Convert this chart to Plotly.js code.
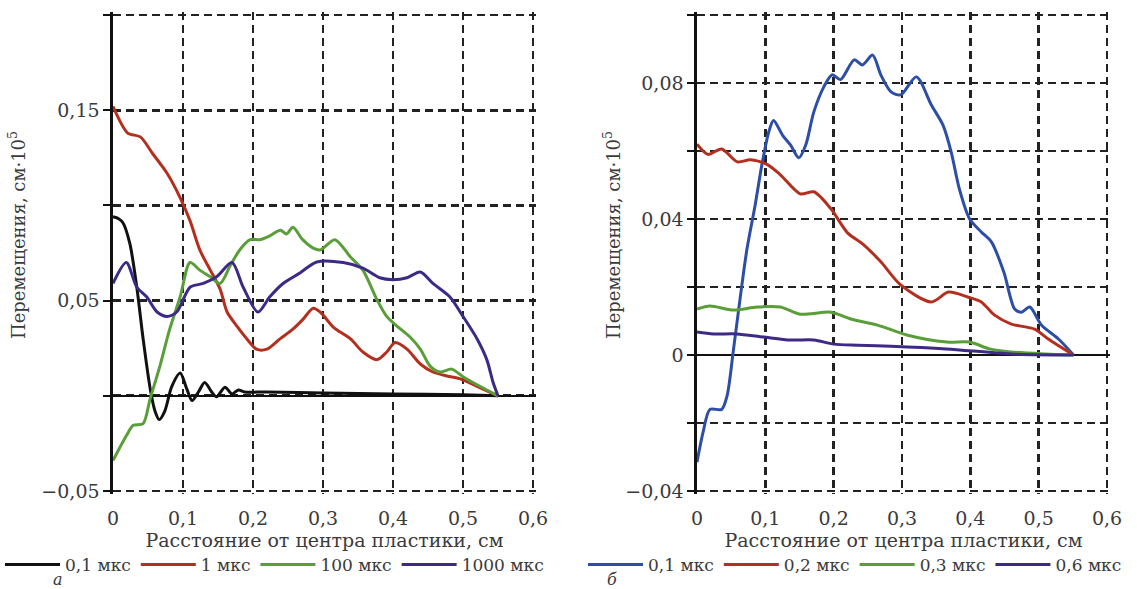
<!DOCTYPE html>
<html>
<head>
<meta charset="utf-8">
<script src="https://cdn.plot.ly/plotly-3.0.1.min.js"></script>
<style>
  html, body { margin: 0; padding: 0; background: #fff; }
  #chart { width: 1137px; height: 589px; }
</style>
</head>
<body>
<div id="chart"></div>
<script>
// ---------- Panel а ----------
const seriesNamesA = ["0,1 мкс", "1 мкс", "100 мкс", "1000 мкс"];
const blackX = [0, 0.008, 0.014, 0.024, 0.034, 0.043, 0.053, 0.06, 0.066, 0.074, 0.084, 0.096, 0.105, 0.113, 0.122, 0.131, 0.141, 0.148, 0.16, 0.17, 0.179, 0.188, 0.22, 0.3, 0.4, 0.5, 0.55];
const blackY = [0.094, 0.093, 0.091, 0.080, 0.057, 0.030, 0.004, -0.008, -0.0125, -0.008, 0.005, 0.012, 0.004, -0.0025, 0.002, 0.007, 0.002, -0.0005, 0.0045, 0.001, 0.003, 0.002, 0.002, 0.0015, 0.001, 0.0005, 0];
const redX = [0, 0.021, 0.039, 0.057, 0.077, 0.096, 0.11, 0.124, 0.139, 0.153, 0.163, 0.177, 0.191, 0.205, 0.22, 0.239, 0.257, 0.271, 0.286, 0.296, 0.315, 0.339, 0.357, 0.377, 0.391, 0.403, 0.42, 0.439, 0.457, 0.477, 0.496, 0.52, 0.55];
const redY = [0.152, 0.138, 0.136, 0.127, 0.117, 0.104, 0.092, 0.0766, 0.066, 0.056, 0.044, 0.0366, 0.030, 0.0245, 0.0245, 0.030, 0.035, 0.040, 0.046, 0.044, 0.036, 0.030, 0.023, 0.019, 0.023, 0.028, 0.0245, 0.0167, 0.0125, 0.0104, 0.0089, 0.005, 0];
const greenX = [0, 0.019, 0.029, 0.043, 0.053, 0.067, 0.081, 0.096, 0.11, 0.124, 0.139, 0.153, 0.167, 0.181, 0.196, 0.21, 0.224, 0.239, 0.248, 0.257, 0.271, 0.286, 0.296, 0.317, 0.339, 0.357, 0.377, 0.391, 0.406, 0.424, 0.439, 0.453, 0.467, 0.484, 0.5, 0.524, 0.55];
const greenY = [-0.034, -0.021, -0.0155, -0.0146, -0.0016, 0.0156, 0.035, 0.052, 0.070, 0.066, 0.0625, 0.059, 0.068, 0.0766, 0.082, 0.082, 0.084, 0.087, 0.085, 0.0885, 0.082, 0.0776, 0.0766, 0.082, 0.073, 0.066, 0.0505, 0.0417, 0.0365, 0.031, 0.0245, 0.0156, 0.0125, 0.014, 0.010, 0.005, 0];
const purpleX = [0, 0.019, 0.034, 0.048, 0.063, 0.077, 0.091, 0.11, 0.129, 0.148, 0.17, 0.186, 0.207, 0.224, 0.243, 0.267, 0.291, 0.329, 0.357, 0.381, 0.4, 0.42, 0.439, 0.457, 0.481, 0.5, 0.52, 0.534, 0.543, 0.55];
const purpleY = [0.059, 0.070, 0.057, 0.052, 0.044, 0.0417, 0.044, 0.057, 0.059, 0.0625, 0.070, 0.057, 0.044, 0.052, 0.059, 0.0645, 0.0703, 0.070, 0.067, 0.062, 0.061, 0.062, 0.065, 0.059, 0.052, 0.0417, 0.030, 0.019, 0.007, 0];

// ---------- Panel б ----------
const seriesNamesB = ["0,1 мкс", "0,2 мкс", "0,3 мкс", "0,6 мкс"];
const blueX = [0, 0.009, 0.019, 0.036, 0.044, 0.053, 0.063, 0.073, 0.085, 0.095, 0.105, 0.112, 0.125, 0.137, 0.149, 0.159, 0.171, 0.186, 0.198, 0.21, 0.23, 0.242, 0.257, 0.269, 0.284, 0.298, 0.321, 0.343, 0.36, 0.372, 0.384, 0.399, 0.416, 0.431, 0.449, 0.465, 0.475, 0.487, 0.504, 0.529, 0.551];
const blueY = [-0.0315, -0.0226, -0.016, -0.016, -0.012, 0.001, 0.0165, 0.031, 0.044, 0.056, 0.0656, 0.069, 0.0647, 0.0617, 0.058, 0.0617, 0.0715, 0.079, 0.0824, 0.081, 0.0868, 0.0853, 0.0882, 0.0824, 0.0774, 0.0765, 0.0818, 0.0735, 0.0676, 0.0597, 0.0488, 0.040, 0.0362, 0.0332, 0.0244, 0.0135, 0.0126, 0.0141, 0.0088, 0.0047, 0];
const red2X = [0, 0.016, 0.036, 0.059, 0.078, 0.103, 0.122, 0.151, 0.171, 0.196, 0.22, 0.244, 0.269, 0.298, 0.343, 0.368, 0.397, 0.416, 0.435, 0.46, 0.494, 0.514, 0.551];
const red2Y = [0.062, 0.059, 0.0606, 0.0568, 0.0574, 0.056, 0.053, 0.0474, 0.048, 0.043, 0.036, 0.0324, 0.0274, 0.0206, 0.0156, 0.0185, 0.017, 0.0156, 0.0118, 0.0091, 0.0076, 0.0047, 0];
const green2X = [0, 0.019, 0.053, 0.088, 0.122, 0.151, 0.196, 0.225, 0.264, 0.307, 0.365, 0.399, 0.428, 0.46, 0.51, 0.551];
const green2Y = [0.0135, 0.0144, 0.0132, 0.0141, 0.0141, 0.012, 0.0126, 0.0106, 0.0088, 0.0059, 0.0038, 0.0038, 0.0018, 0.0009, 0.0003, 0];
const purple2X = [0, 0.024, 0.058, 0.097, 0.137, 0.171, 0.2, 0.235, 0.284, 0.365, 0.46, 0.551];
const purple2Y = [0.0068, 0.0062, 0.0062, 0.0053, 0.0044, 0.0044, 0.0032, 0.0029, 0.0026, 0.0018, 0.0003, 0];

// ---------- Ticks ----------
const xTickVals = [0, 0.1, 0.2, 0.3, 0.4, 0.5, 0.6];
const xTickText = ["0", "0,1", "0,2", "0,3", "0,4", "0,5", "0,6"];
const yLabelValsA = [-0.05, 0.05, 0.15];
const yLabelTextA = ["\u22120,05", "0,05", "0,15"];
const yMinorValsA = [0, 0.1, 0.2];
const yLabelValsB = [-0.04, 0, 0.04, 0.08];
const yLabelTextB = ["\u22120,04", "0", "0,04", "0,08"];
const yMinorValsB = [-0.02, 0.02, 0.06, 0.1];

const xTitle = "Расстояние от центра пластики, см";
const yTitle = "Перемещения, см·10<sup>5</sup>";

const colorsA = ["#111111", "#b3301f", "#5a9e3a", "#3d2a86"];
const colorsB = ["#2d4ea6", "#b3301f", "#5a9e3a", "#3d2a86"];

const FONT = "DejaVu Serif, serif";
const TXT = "#3a3a3a";

function tr(x, y, name, color, xa, ya, leg) {
  return {
    x: x, y: y, name: name, type: "scatter", mode: "lines",
    xaxis: xa, yaxis: ya, legend: leg,
    line: { color: color, width: 3, shape: "spline", smoothing: 0.8 },
    hoverinfo: "skip"
  };
}

const data = [
  tr(blackX, blackY, seriesNamesA[0], colorsA[0], "x", "y", "legend"),
  tr(redX, redY, seriesNamesA[1], colorsA[1], "x", "y", "legend"),
  tr(greenX, greenY, seriesNamesA[2], colorsA[2], "x", "y", "legend"),
  tr(purpleX, purpleY, seriesNamesA[3], colorsA[3], "x", "y", "legend"),
  tr(blueX, blueY, seriesNamesB[0], colorsB[0], "x2", "y2", "legend2"),
  tr(red2X, red2Y, seriesNamesB[1], colorsB[1], "x2", "y2", "legend2"),
  tr(green2X, green2Y, seriesNamesB[2], colorsB[2], "x2", "y2", "legend2"),
  tr(purple2X, purple2Y, seriesNamesB[3], colorsB[3], "x2", "y2", "legend2")
];

const W = 1137, H = 589;
const gridCol = "#222222";
const GW = 2.6;
const DASH = "8px,5px";
const PAD = 3; // px of extra room so that the edge gridlines are drawn

function xAxis(x0, x1, anchor) {
  const pxPerUnit = (x1 - x0) / 0.6;
  return {
    domain: [x0 / W, (x1 + PAD) / W], anchor: anchor, range: [0, 0.6 + PAD / pxPerUnit],
    tickvals: xTickVals, ticktext: xTickText,
    showgrid: true, gridcolor: gridCol, gridwidth: GW, griddash: DASH,
    zeroline: false, showline: false, ticks: "",
    ticklabelstandoff: 8 + PAD,
    tickfont: { family: FONT, size: 19, color: TXT },
    title: { text: xTitle, font: { family: FONT, size: 19, color: TXT }, standoff: 0 },
    automargin: false,
    fixedrange: true
  };
}
function yAxis(anchor, lo, hi, vals, text, minorVals) {
  const top = 15, bot = 491;
  const pxPerUnit = (bot - top) / (hi - lo);
  const d = PAD / pxPerUnit;
  return {
    domain: [1 - (bot + PAD) / H, 1 - (top - PAD) / H], anchor: anchor, range: [lo - d, hi + d],
    tickmode: "array", tickvals: vals, ticktext: text,
    showgrid: true, gridcolor: gridCol, gridwidth: GW, griddash: DASH,
    zeroline: true, zerolinecolor: "#111", zerolinewidth: 2.2,
    showline: true, linecolor: "#111", linewidth: 2.6,
    ticks: "outside", ticklen: 7, tickwidth: 2, tickcolor: "#111",
    tickfont: { family: FONT, size: 19, color: TXT },
    minor: {
      tickmode: "array", tickvals: minorVals,
      ticks: "outside", ticklen: 7, tickwidth: 2, tickcolor: "#111",
      showgrid: true, gridcolor: gridCol, gridwidth: GW, griddash: DASH
    },
    automargin: false,
    fixedrange: true
  };
}

const legendBase = {
  orientation: "h", y: 1 - 565 / H, yanchor: "middle", xanchor: "left",
  itemwidth: 55, font: { family: FONT, size: 17, color: TXT },
  bgcolor: "rgba(0,0,0,0)", borderwidth: 0, tracegroupgap: 0
};

const layout = {
  width: W, height: H,
  margin: { l: 0, r: 0, t: 0, b: 0, autoexpand: false },
  paper_bgcolor: "#ffffff", plot_bgcolor: "#ffffff",
  showlegend: true,
  xaxis: xAxis(113, 533, "y"),
  yaxis: yAxis("x", -0.05, 0.2, yLabelValsA, yLabelTextA, yMinorValsA),
  xaxis2: xAxis(697, 1107, "y2"),
  yaxis2: yAxis("x2", -0.04, 0.1, yLabelValsB, yLabelTextB, yMinorValsB),
  legend: Object.assign({}, legendBase, { x: 0 }),
  legend2: Object.assign({}, legendBase, { x: 583 / W }),
  annotations: [
    { text: yTitle, textangle: -90, xref: "paper", yref: "paper", x: 17 / W, y: 1 - 235 / H,
      xanchor: "center", yanchor: "middle", showarrow: false,
      font: { family: FONT, size: 18, color: TXT } },
    { text: yTitle, textangle: -90, xref: "paper", yref: "paper", x: 612 / W, y: 1 - 235 / H,
      xanchor: "center", yanchor: "middle", showarrow: false,
      font: { family: FONT, size: 18, color: TXT } },
    { text: "<i>а</i>", xref: "paper", yref: "paper", x: 58 / W, y: 1 - 579 / H,
      xanchor: "center", yanchor: "middle", showarrow: false,
      font: { family: FONT, size: 16, color: TXT } },
    { text: "<i>б</i>", xref: "paper", yref: "paper", x: 612 / W, y: 1 - 579 / H,
      xanchor: "center", yanchor: "middle", showarrow: false,
      font: { family: FONT, size: 16, color: TXT } }
  ]
};

Plotly.newPlot("chart", data, layout, { displayModeBar: false, staticPlot: true });
</script>
</body>
</html>
